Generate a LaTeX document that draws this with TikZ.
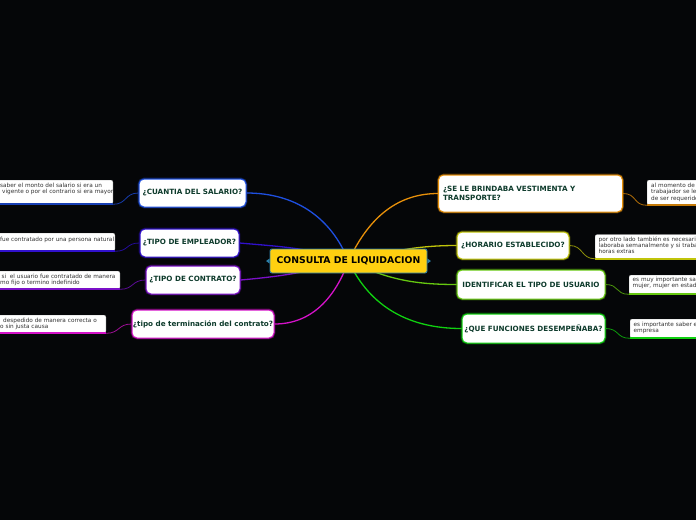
\documentclass[tikz,border=0pt]{standalone}
\usepackage{fontspec}
\setmainfont{DejaVu Sans}
\definecolor{bg}{HTML}{050608}
\definecolor{tdark}{HTML}{0E3B2C}
\definecolor{ltext}{HTML}{333333}
\definecolor{cgold}{HTML}{FFD010}
\definecolor{cteal}{HTML}{2C7FA8}
\definecolor{cblue}{HTML}{1E4FE0}
\definecolor{cindigo}{HTML}{3010CC}
\definecolor{cpurple}{HTML}{7B10C8}
\definecolor{cmagenta}{HTML}{D412C8}
\definecolor{corange}{HTML}{E8900A}
\definecolor{cyellow}{HTML}{C0C40A}
\definecolor{cgreenA}{HTML}{66C810}
\definecolor{cgreenB}{HTML}{10D010}
\tikzset{
  topic/.style={fill=white, draw=#1, line width=1pt, rounded corners=5pt,
    preaction={draw=#1, line width=2.6pt, opacity=0.35},
    font=\fontsize{7.2}{9.3}\selectfont\bfseries, text=tdark, inner sep=0pt, align=center},
  leafbox/.style={fill=white, draw=gray!40, line width=0.3pt, rounded corners=2pt, inner sep=0pt},
  ltxt/.style={font=\fontsize{5.75}{6.5}\selectfont, text=ltext, inner sep=0pt, anchor=base west},
  mainline/.style={draw=#1, line width=1.3pt},
  leafline/.style={draw=#1!75!black, line width=0.8pt},
  underl/.style={draw=#1, line width=2pt},
}
\begin{document}
\begin{tikzpicture}[x=1pt,y=1pt]
\fill[bg] (0,0) rectangle (696,-520);
\useasboundingbox (0,0) rectangle (696,-520);
\clip (0,0) rectangle (696,-520);

\coordinate (cc) at (348.5,-261);

% topic boxes
\node[topic=cblue, minimum width=107pt, minimum height=28pt] (b1) at (192.5,-193) {¿CUANTIA DEL SALARIO?};
\node[topic=cindigo, minimum width=99pt, minimum height=28pt] (b2) at (189.5,-243) {¿TIPO DE EMPLEADOR?};
\node[topic=cpurple, minimum width=94pt, minimum height=28pt] (b3) at (193,-280) {¿TIPO DE CONTRATO?};
\node[topic=cmagenta, minimum width=142pt, minimum height=28pt] (b4) at (203,-324) {¿tipo de terminación del contrato?};
\node[topic=corange, minimum width=184pt, minimum height=37pt, text width=175pt, align=left] (b5) at (530.5,-193.5) {¿SE LE BRINDABA VESTIMENTA Y\\TRANSPORTE?};
\node[topic=cyellow, minimum width=112pt, minimum height=27pt] (b6) at (513,-245.5) {¿HORARIO ESTABLECIDO?};
\node[topic=cgreenA, minimum width=148pt, minimum height=29pt] (b7) at (531,-284.5) {IDENTIFICAR EL TIPO DE USUARIO};
\node[topic=cgreenB, minimum width=143pt, minimum height=29pt] (b8) at (533.5,-328.5) {¿QUE FUNCIONES DESEMPEÑABA?};

% leaf boxes
\node[leafbox, minimum width=153pt, minimum height=24pt, anchor=north east] (l1) at (113,-180) {};
\node[leafbox, minimum width=155pt, minimum height=18pt, anchor=north east] (l2) at (115,-233) {};
\node[leafbox, minimum width=160pt, minimum height=18pt, anchor=north east] (l3) at (120,-271) {};
\node[leafbox, minimum width=146pt, minimum height=18pt, anchor=north east] (l4) at (106,-315) {};
\node[leafbox, minimum width=90pt, minimum height=25pt, anchor=north west] (l5) at (647,-180) {};
\node[leafbox, minimum width=140pt, minimum height=24pt, anchor=north west] (l6) at (595,-234.5) {};
\node[leafbox, minimum width=110pt, minimum height=19pt, anchor=north west] (l7) at (629,-275) {};
\node[leafbox, minimum width=110pt, minimum height=19pt, anchor=north west] (l8) at (630,-319) {};

% leaf texts
\node[ltxt] (t1a) at (0,-187.7) {saber el monto del salario si era un};
\node[ltxt] (t1b) at (2,-193.7) {vigente o por el contrario si era mayor};
\node[ltxt] (t2a) at (0,-241) {fue contratado por una persona natural};
\node[ltxt] (t3a) at (1.5,-278.7) {si\ \ el usuario fue contratado de manera};
\node[ltxt] (t3b) at (0,-284.7) {mo fijo o termino indefinido};
\node[ltxt] (t4a) at (3,-322.3) {despedido de manera correcta o};
\node[ltxt] (t4b) at (0,-328.3) {o sin justa causa};
\node[ltxt] (t5a) at (651,-187.3) {al momento de s};
\node[ltxt] (t5b) at (651,-193.9) {trabajador se le};
\node[ltxt] (t5c) at (651,-200.6) {de ser requerido};
\node[ltxt] (t6a) at (598.5,-241) {por otro lado también es necesario};
\node[ltxt] (t6b) at (598.5,-247.3) {laboraba semanalmente y si trabaja};
\node[ltxt] (t6c) at (598.5,-253.5) {horas extras};
\node[ltxt] (t7a) at (632.5,-281.6) {es muy importante sab};
\node[ltxt] (t7b) at (632.5,-287.6) {mujer, mujer en estado};
\node[ltxt] (t8a) at (633.5,-326.6) {es importante saber el};
\node[ltxt] (t8b) at (633.5,-332.6) {empresa};

% underlines
\draw[underl=cblue!80!black] (l1.south east) -- (l1.south west);
\draw[underl=cindigo] (l2.south east) -- (l2.south west);
\draw[underl=cpurple] (l3.south east) -- (l3.south west);
\draw[underl=cmagenta] (l4.south east) -- (l4.south west);
\draw[underl=corange!85!black] (l5.south west) -- (l5.south east);
\draw[underl=cyellow] (l6.south west) -- (l6.south east);
\draw[underl=cgreenA] (l7.south west) -- (l7.south east);
\draw[underl=cgreenB] (l8.south west) -- (l8.south east);

% leaf connectors
\draw[leafline=cblue] (b1.west) .. controls +(-14,0) and +(14,0) .. (l1.south east);
\draw[leafline=cindigo] (b2.west) .. controls +(-14,0) and +(14,0) .. (l2.south east);
\draw[leafline=cpurple] (b3.west) .. controls +(-14,0) and +(14,0) .. (l3.south east);
\draw[leafline=cmagenta] (b4.west) .. controls +(-14,0) and +(14,0) .. (l4.south east);
\draw[leafline=corange] (b5.east) .. controls +(14,0) and +(-14,0) .. (l5.south west);
\draw[leafline=cyellow] (b6.east) .. controls +(14,0) and +(-14,0) .. (l6.south west);
\draw[leafline=cgreenA] (b7.east) .. controls +(14,0) and +(-14,0) .. (l7.south west);
\draw[leafline=cgreenB] (b8.east) .. controls +(14,0) and +(-14,0) .. (l8.south west);

% main connectors
\draw[mainline=cblue] (cc) to[out=112, in=0] (b1.east);
\draw[mainline=cindigo] (cc) to[out=162, in=-5] (b2.east);
\draw[mainline=cpurple] (cc) to[out=195, in=5] (b3.east);
\draw[mainline=cmagenta] (cc) to[out=250, in=0] (b4.east);
\draw[mainline=corange] (cc) to[out=65, in=180] (b5.west);
\draw[mainline=cyellow] (cc) to[out=12, in=180] (b6.west);
\draw[mainline=cgreenA] (cc) to[out=-25, in=180] (b7.west);
\draw[mainline=cgreenB] (cc) to[out=-65, in=180] (b8.west);

% central topic
\node[fill=cgold, draw=cteal, line width=0.9pt, rounded corners=2pt, minimum width=157pt, minimum height=24pt, inner sep=0pt,
      font=\fontsize{9.3}{10}\selectfont\bfseries, text=black] (c) at (cc) {CONSULTA DE LIQUIDACION};
\fill[cteal] ([yshift=2.5pt]c.west) -- ([xshift=-3.5pt]c.west) -- ([yshift=-2.5pt]c.west) -- cycle;
\fill[cteal] ([yshift=2.5pt]c.east) -- ([xshift=3.5pt]c.east) -- ([yshift=-2.5pt]c.east) -- cycle;
\end{tikzpicture}
\end{document}
